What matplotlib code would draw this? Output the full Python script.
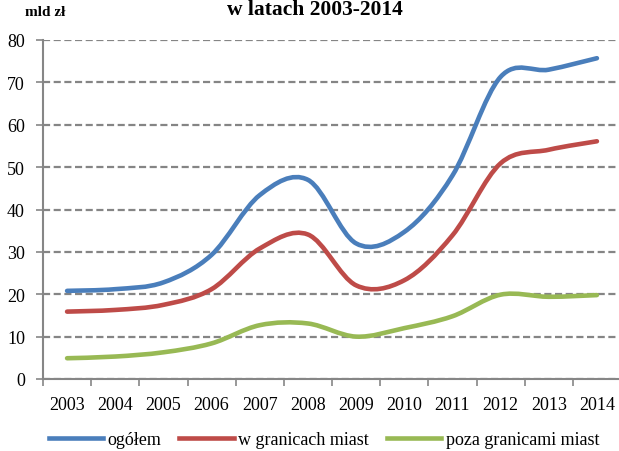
import matplotlib
matplotlib.use('Agg')
import matplotlib.pyplot as plt
import numpy as np
from matplotlib.path import Path
import matplotlib.patches as patches
from matplotlib.lines import Line2D

years = ['2003', '2004', '2005', '2006', '2007', '2008', '2009', '2010',
         '2011', '2012', '2013', '2014']
ogolem = [20.8, 21.2, 22.8, 29.3, 43.4, 47.0, 32.0, 34.7, 48.0, 71.3, 73.0, 75.7]
w_granicach = [15.9, 16.3, 17.5, 21.2, 30.8, 34.1, 22.1, 23.3, 33.9, 50.9, 54.1, 56.1]
poza_granicami = [4.9, 5.3, 6.3, 8.4, 12.7, 13.1, 10.0, 12.0, 14.8, 19.9, 19.4, 19.8]
series_names = ['ogółem', 'w granicach miast', 'poza granicami miast']
colors = ['#4A7EBB', '#BE4B48', '#98B954']

plt.rcParams['font.family'] = ['Liberation Serif', 'DejaVu Serif']


def smooth_path(xs, ys):
    # Bezier przez punkty, jak wygladzona linia w Excelu (Catmull-Rom)
    n = len(xs)
    verts = [(xs[0], ys[0])]
    codes = [Path.MOVETO]
    for i in range(n - 1):
        x0, y0 = (xs[i - 1], ys[i - 1]) if i > 0 else (xs[i], ys[i])
        x1, y1 = xs[i], ys[i]
        x2, y2 = xs[i + 1], ys[i + 1]
        x3, y3 = (xs[i + 2], ys[i + 2]) if i + 2 < n else (x2, y2)
        c1 = (x1 + (x2 - x0) / 6.0, y1 + (y2 - y0) / 6.0)
        c2 = (x2 - (x3 - x1) / 6.0, y2 - (y3 - y1) / 6.0)
        verts += [c1, c2, (x2, y2)]
        codes += [Path.CURVE4] * 3
    return Path(verts, codes)


fig = plt.figure(figsize=(6.19, 4.52), dpi=100)
ax = fig.add_axes([43 / 619, 1 - 380 / 452, 578 / 619, 339 / 452])

x = np.arange(len(years))
for vals, c in zip([ogolem, w_granicach, poza_granicami], colors):
    p = patches.PathPatch(smooth_path(x, vals), facecolor='none', edgecolor=c,
                          lw=3.3, capstyle='round', joinstyle='round', zorder=3)
    ax.add_patch(p)

ax.set_xlim(-0.5, len(years) - 0.5)
ax.set_ylim(0, 80)
ax.set_yticks(range(0, 81, 10))
ax.set_xticks(np.arange(len(years) + 1) - 0.5, minor=False)
ax.set_xticklabels([])
ax.set_xticks(x, minor=True)
ax.set_xticklabels(years, minor=True)
ax.tick_params(axis='x', which='minor', length=0, pad=12, labelsize=13)
ax.tick_params(axis='x', which='major', length=5, color='#868686', width=1.2)
ax.tick_params(axis='y', length=5, color='#868686', width=1.2, pad=8, labelsize=13)
ax.grid(axis='y', linestyle=(0, (3.2, 1.6)), color='#858585', lw=1.6)
ax.set_axisbelow(True)
for s in ['top', 'right']:
    ax.spines[s].set_visible(False)
for s in ['left', 'bottom']:
    ax.spines[s].set_color('#868686')
    ax.spines[s].set_linewidth(1.5)

fig.text(315 / 619, 1 - 15 / 452, 'w latach 2003-2014', ha='center', va='baseline',
         fontsize=15.5, fontweight='bold')
fig.text(25 / 619, 1 - 16 / 452, 'mld zł', ha='left', va='baseline',
         fontsize=11, fontweight='bold')

handles = [Line2D([], [], color=c, lw=3.3) for c in colors]
fig.legend(handles, series_names, loc='center', bbox_to_anchor=(324 / 619, 1 - 441 / 452),
           ncol=3, frameon=False, fontsize=13, handlelength=3.0, handletextpad=0.25,
           columnspacing=1.0, borderpad=0, borderaxespad=0)

fig.savefig('out.png', dpi=100)
